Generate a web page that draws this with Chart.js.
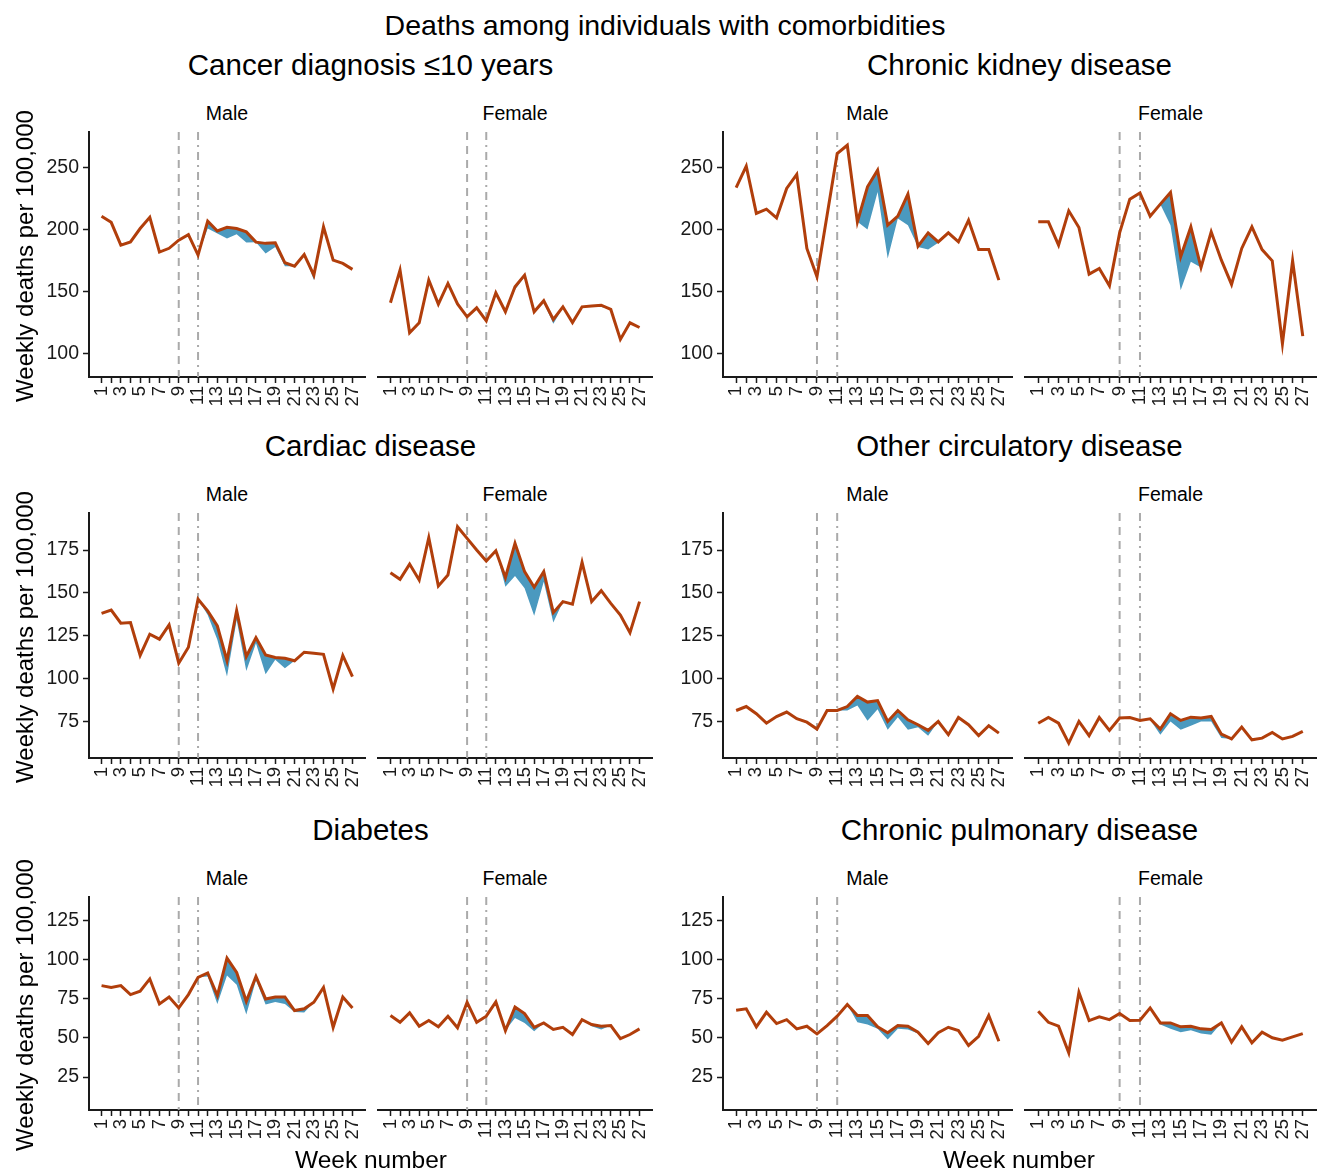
<!DOCTYPE html>
<html>
<head>
<meta charset="utf-8">
<script src="https://cdn.jsdelivr.net/npm/chart.js@4.4.1/dist/chart.umd.min.js"></script>
<style>
  body { margin: 0; background: #fff; font-family: "Liberation Sans", Arial, sans-serif; }
  #page { position: relative; width: 1328px; height: 1172px; overflow: hidden; }
  .plot { position: absolute; }
  .txt { position: absolute; white-space: nowrap; color: #000; transform: translate(-50%, -50%); }
  .ytitle { transform: translate(-50%, -50%) rotate(-90deg); }
</style>
</head>
<body>
<div id="page"></div>
<script>
// x axis: weeks of the year
const weeks = [1,2,3,4,5,6,7,8,9,10,11,12,13,14,15,16,17,18,19,20,21,22,23,24,25,26,27];
const markerWeeks = [9, 11]; // dashed, dot-dash

// y ticks per row
const yTicksRow1 = [100, 150, 200, 250];
const yTicksRow2 = [75, 100, 125, 150, 175];
const yTicksRow3 = [25, 50, 75, 100, 125];

// total deaths (orange line) and deaths without covid (lower edge of blue band)
const cancerMaleTotal = [211,206,187.6,190.2,201,210,182,185,191.6,196,179.5,207,199,202,201,198.3,190,189,189.5,173.3,170.6,180,163.3,202.3,175.4,172.8,168];
const cancerMaleNonCovid = [211,206,187.6,190.2,201,210,182,185,191.6,196,179.5,201,197,193,196.4,189.7,190,180.8,186,170.6,170.6,180,159.3,202.3,175.4,172.8,168];
const cancerFemaleTotal = [141,167.4,116.7,124.8,159.3,139.9,156.6,140,129.6,136.9,126.4,149,133.7,153.9,163.3,133.7,142.6,127.5,137.7,125,137.7,138.3,139,135.6,111.4,124.8,121];
const cancerFemaleNonCovid = [141,167.4,116.7,124.8,159.3,139.9,156.6,140,129.6,136.9,126.4,149,133,151.5,162,133,141,124,137,125,137.5,137.5,137.5,135.6,111.4,124.8,121];

const kidneyMaleTotal = [234,251.4,213.2,216.6,209.6,233.4,244.7,184.9,162,211.8,261.6,268.3,206.4,234.7,248.1,203.7,211,228.8,186.7,197.5,190.2,197.5,190.2,207.7,184,184,159.3];
const kidneyMaleNonCovid = [234,251.4,213.2,216.6,209.6,233.4,244.7,184.9,162,211.8,261.6,268.3,206.4,200.2,230.6,176.8,209,203.7,186,184,189.5,197.5,190.2,207.7,184,184,159.3];
const kidneyFemaleTotal = [206.4,206.4,187.6,215.3,201.8,164.1,168.7,154.7,197.5,224.7,229.8,211,220.7,230.1,178.1,202.3,169.5,198.3,175.4,155.8,184.9,202.3,184,174.9,108,174.9,114];
const kidneyFemaleNonCovid = [206.4,206.4,187.6,215.3,201.8,164.1,168.7,154.7,197.5,224.7,229.8,211,220.7,203.7,151.2,174.1,169.5,198.3,175.4,155.8,184.9,202.3,184,174.9,108,174.9,114];

const cardiacMaleTotal = [138.1,140,132.3,132.7,113.5,125.9,123,131.3,109,118.3,146.3,139.5,130.7,110.5,139.7,112.9,123.9,113.8,112.3,111.9,110.4,115.4,114.8,114.2,94,113.5,101.2];
const cardiacMaleNonCovid = [138.1,140,132.3,132.7,113.5,125.9,123,131.3,109,118.3,146.3,137.1,122.6,101.2,134.2,104.5,120.7,102.6,111,106.1,110.4,115.4,114.8,114.2,94,113.5,101.2];
const cardiacFemaleTotal = [161.8,157.9,166.8,157.5,182.2,154,160.4,188.6,181.8,175,168.6,174.6,159,178.9,162.4,153.3,162.4,138.5,144.9,143.4,167.8,144.9,151.3,143.9,137.1,126.8,144.9];
const cardiacFemaleNonCovid = [161.8,157.9,166.8,157.5,182.2,154,160.4,188.6,181.8,175,168.6,174.6,153.6,159.9,152.7,136.6,156.5,132.7,144.9,143.4,167.8,144.9,151.3,143.9,137.1,126.8,144.9];

const circMaleTotal = [81.4,83.7,79.5,74,77.9,80.5,76.6,74.6,70.6,81.4,81.4,83.7,89.6,86.3,87.2,75,81.4,76,73.1,69.8,75,67.3,77.3,73.1,66.8,72.5,68.2];
const circMaleNonCovid = [81.4,83.7,79.5,74,77.9,80.5,76.6,74.6,70.6,81.4,81.4,81.4,84.3,75.4,82.2,70.2,77.5,70.2,71.7,66.7,75,67.3,77.3,73.1,66.8,72.5,68.2];
const circFemaleTotal = [74,77.3,74,62.4,75,66.7,77.3,69.8,77,77.3,75.6,76.6,70.6,79.5,75.6,77.5,77,77.9,67.6,64.8,71.7,64.3,65.3,68.6,64.8,66.3,69.2];
const circFemaleNonCovid = [74,77.3,74,62.4,75,66.7,77.3,69.8,77,77.3,75.6,76,67.3,75,70.2,72.5,75,75,65.3,64.8,71.7,64.3,65.3,68.6,64.8,66.3,69.2];

const diabetesMaleTotal = [83.4,82.3,83.4,77.7,79.8,87.7,71.7,76.2,69.2,77.7,88.7,91.5,77,101,91.9,73.4,89.3,74.9,76.2,76.2,67.5,68.6,72.8,82.3,56.8,76.2,69.2];
const diabetesMaleNonCovid = [83.4,82.3,83.4,77.7,79.8,87.7,71.7,76.2,69.2,77.7,88.7,89.3,71.7,89.8,84,64.9,86.8,71.3,73,71.7,66.6,66.2,72.8,82.3,56.8,76.2,69.2];
const diabetesFemaleTotal = [64.3,60,66,57.5,61.1,57.1,63.9,56.5,72.8,60,63.9,73,54.7,69.8,65.6,56.8,59.6,55.4,56.8,52.2,61.7,58.6,57.5,57.9,49.6,52.2,55.8];
const diabetesFemaleNonCovid = [64.3,60,66,57.5,61.1,57.1,63.9,56.5,72.8,60,63.9,73,54.7,62.8,59.6,54.3,59.6,55.4,56.8,52.2,61.7,57.5,55.4,57.9,49.6,52.2,55.8];

const pulmMaleTotal = [67.7,68.6,57.1,66.4,59.2,61.7,55.8,57.5,52.6,57.9,63.9,71.3,64.3,64.3,57.1,53.3,57.9,57.5,53.7,46.5,53.3,56.8,54.7,45.2,51.1,64.3,47.9];
const pulmMaleNonCovid = [67.7,68.6,57.1,66.4,59.2,61.7,55.8,57.5,52.6,57.9,63.9,71.3,60,58.6,55.8,49,55.8,55.4,52.9,46.5,53.3,56.8,54.7,45.2,51.1,64.3,47.9];
const pulmFemaleTotal = [67,60,57.5,40.5,79.1,61.1,63.5,61.7,65.6,61.1,61.3,69.2,59.6,59.6,57.1,57.5,55.8,55.4,59.6,47.3,57.1,46.9,53.7,50.1,48.6,50.7,52.8];
const pulmFemaleNonCovid = [67,60,57.5,40.5,79.1,61.1,63.5,61.7,65.6,61.1,61.3,69.2,58.6,55.8,53.7,54.9,52.9,52,59.6,47.3,57.1,46.9,53.7,50.1,48.6,50.7,52.8];

const panels = [
  { title: 'Cancer diagnosis \u226410 years', male: [cancerMaleTotal, cancerMaleNonCovid], female: [cancerFemaleTotal, cancerFemaleNonCovid] },
  { title: 'Chronic kidney disease', male: [kidneyMaleTotal, kidneyMaleNonCovid], female: [kidneyFemaleTotal, kidneyFemaleNonCovid] },
  { title: 'Cardiac disease', male: [cardiacMaleTotal, cardiacMaleNonCovid], female: [cardiacFemaleTotal, cardiacFemaleNonCovid] },
  { title: 'Other circulatory disease', male: [circMaleTotal, circMaleNonCovid], female: [circFemaleTotal, circFemaleNonCovid] },
  { title: 'Diabetes', male: [diabetesMaleTotal, diabetesMaleNonCovid], female: [diabetesFemaleTotal, diabetesFemaleNonCovid] },
  { title: 'Chronic pulmonary disease', male: [pulmMaleTotal, pulmMaleNonCovid], female: [pulmFemaleTotal, pulmFemaleNonCovid] }
];

// layout
const rows = [
  { top: 132, bottom: 377, min: 81, max: 279, ticks: yTicksRow1 },
  { top: 513, bottom: 758, min: 53.7, max: 196.6, ticks: yTicksRow2 },
  { top: 897, bottom: 1110, min: 4, max: 140, ticks: yTicksRow3 }
];
const cols = [
  { male: [89, 365], female: [378, 652] },
  { male: [723, 1012], female: [1025, 1316] }
];
const ORANGE = '#b13e0b';
const BLUE = '#4a99bf';
const INK = '#1a1a1a';
const FONT = '"Liberation Sans", Arial, sans-serif';

const page = document.getElementById('page');

function addText(text, x, y, size, extraClass) {
  const d = document.createElement('div');
  d.className = 'txt' + (extraClass ? ' ' + extraClass : '');
  d.style.left = x + 'px';
  d.style.top = y + 'px';
  d.style.fontSize = size + 'px';
  d.textContent = text;
  page.appendChild(d);
}

// dashed / dot-dash reference lines at weeks 9 and 11
const weekMarkers = {
  id: 'weekMarkers',
  beforeDatasetsDraw(chart) {
    const { ctx, chartArea: a, scales: { x } } = chart;
    const dashes = [[8, 6], [8, 5, 2, 5]];
    ctx.save();
    ctx.strokeStyle = '#aaaaaa';
    ctx.lineWidth = 2;
    markerWeeks.forEach((w, i) => {
      const px = x.getPixelForValue(w);
      ctx.setLineDash(dashes[i]);
      ctx.beginPath();
      ctx.moveTo(px, a.top);
      ctx.lineTo(px, a.bottom);
      ctx.stroke();
    });
    ctx.restore();
  }
};

function makeChart(left, right, row, showY, total, nonCovid) {
  const padL = 64, padT = 6, padR = 8, axisH = 48;
  const box = document.createElement('div');
  box.className = 'plot';
  box.style.left = (left - padL) + 'px';
  box.style.top = (row.top - padT) + 'px';
  const canvas = document.createElement('canvas');
  canvas.width = right - left + padL + padR;
  canvas.height = row.bottom - row.top + padT + axisH;
  box.appendChild(canvas);
  page.appendChild(box);

  new Chart(canvas, {
    type: 'line',
    data: {
      labels: weeks,
      datasets: [
        {
          data: weeks.map((w, i) => ({ x: w, y: nonCovid[i] })),
          borderWidth: 0,
          pointRadius: 0,
          fill: false
        },
        {
          data: weeks.map((w, i) => ({ x: w, y: total[i] })),
          borderColor: ORANGE,
          borderWidth: 3,
          backgroundColor: BLUE,
          pointRadius: 0,
          tension: 0,
          fill: '-1'
        }
      ]
    },
    options: {
      responsive: false,
      animation: false,
      layout: { padding: { top: padT, right: padR, left: 0, bottom: 0 } },
      plugins: { legend: { display: false }, tooltip: { enabled: false } },
      scales: {
        x: {
          type: 'linear',
          min: -0.3,
          max: 28.3,
          afterBuildTicks: s => { s.ticks = weeks.map(v => ({ value: v })); },
          afterFit: s => { s.height = axisH; s.paddingLeft = 0; s.paddingRight = 0; },
          border: { display: true, color: INK, width: 2 },
          grid: { drawOnChartArea: false, tickLength: 6, tickColor: INK, tickWidth: 1.5 },
          ticks: {
            autoSkip: false,
            minRotation: 90,
            maxRotation: 90,
            padding: 3,
            color: INK,
            font: { family: FONT, size: 18.5 },
            callback: v => (v % 2 === 1 ? String(v) : '')
          }
        },
        y: {
          min: row.min,
          max: row.max,
          afterBuildTicks: s => { s.ticks = row.ticks.map(v => ({ value: v })); },
          afterFit: s => { s.width = padL; s.paddingTop = 0; s.paddingBottom = 0; },
          border: { display: showY, color: INK, width: 2 },
          grid: { display: showY, drawOnChartArea: false, tickLength: 6, tickColor: INK, tickWidth: 1.5 },
          ticks: { display: showY, padding: 4, color: INK, font: { family: FONT, size: 19.5 } }
        }
      }
    },
    plugins: [weekMarkers]
  });
}

addText('Deaths among individuals with comorbidities', 665, 25, 28.5);

panels.forEach((p, i) => {
  const row = rows[Math.floor(i / 2)];
  const col = cols[i % 2];
  const centre = (col.male[0] + col.female[1]) / 2;
  addText(p.title, centre, row.top - 67, 29.5);
  addText('Male', (col.male[0] + col.male[1]) / 2, row.top - 19, 19.5);
  addText('Female', (col.female[0] + col.female[1]) / 2, row.top - 19, 19.5);
  makeChart(col.male[0], col.male[1], row, true, p.male[0], p.male[1]);
  makeChart(col.female[0], col.female[1], row, false, p.female[0], p.female[1]);
});

rows.forEach(r => addText('Weekly deaths per 100,000', 25, (r.top + r.bottom) / 2 + 1, 24, 'ytitle'));
addText('Week number', 371, 1160, 24.5);
addText('Week number', 1019, 1160, 24.5);
</script>
</body>
</html>
